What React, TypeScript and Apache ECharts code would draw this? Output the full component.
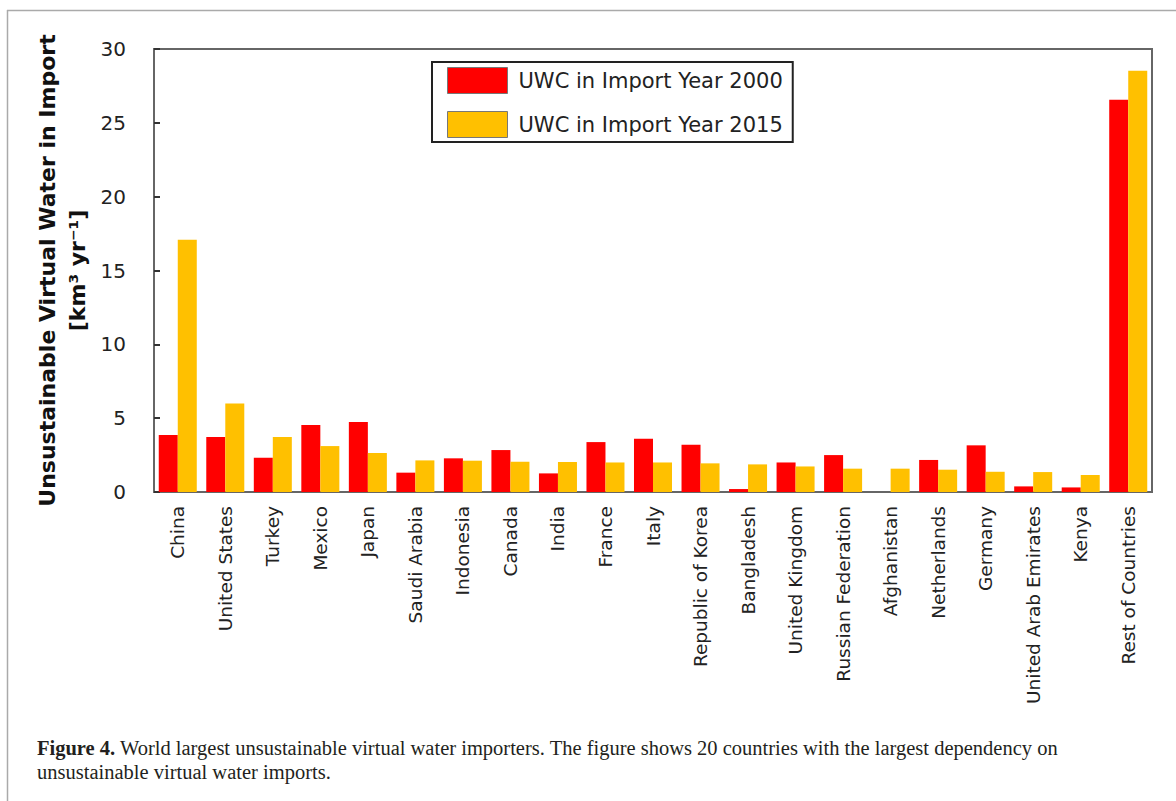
import React, { useEffect, useRef } from "react";
import * as echarts from "echarts";

const countries = [
  "China", "United States", "Turkey", "Mexico", "Japan", "Saudi Arabia", "Indonesia",
  "Canada", "India", "France", "Italy", "Republic of Korea", "Bangladesh", "United Kingdom",
  "Russian Federation", "Afghanistan", "Netherlands", "Germany", "United Arab Emirates",
  "Kenya", "Rest of Countries",
];
const uwc2000 = [3.86, 3.72, 2.32, 4.54, 4.74, 1.31, 2.28, 2.84, 1.26, 3.38, 3.61, 3.2, 0.2, 2.0, 2.5, 0, 2.17, 3.16, 0.38, 0.31, 26.56];
const uwc2015 = [17.08, 6.0, 3.72, 3.11, 2.64, 2.14, 2.12, 2.05, 2.03, 2.0, 2.0, 1.94, 1.87, 1.73, 1.58, 1.58, 1.51, 1.37, 1.35, 1.15, 28.52];
const seriesNames = ["UWC in Import Year 2000", "UWC in Import Year 2015"];
const yTicks = { min: 0, max: 30, interval: 5 };
const captionBold = "Figure 4.";
const captionLine1 = " World largest unsustainable virtual water importers. The figure shows 20 countries with the largest dependency on";
const captionLine2 = "unsustainable virtual water imports.";

const FONT = "DejaVu Sans";

export default function App() {
  const ref = useRef<HTMLDivElement>(null);
  useEffect(() => {
    if (!ref.current) return;
    const chart = echarts.init(ref.current, undefined, { renderer: "svg" });
    chart.setOption({
      animation: false,
      backgroundColor: "#ffffff",
      grid: {
        left: 154, right: 24, top: 49, bottom: 309,
        show: true, borderColor: "#666", borderWidth: 2,
      },
      legend: {
        orient: "vertical",
        left: 432, top: 62,
        data: seriesNames,
        borderColor: "#222", borderWidth: 2,
        padding: [5, 10, 4, 15],
        itemWidth: 60, itemHeight: 26, itemGap: 17,
        icon: "rect",
        itemStyle: { borderColor: "#777", borderWidth: 1 },
        textStyle: { fontFamily: FONT, fontSize: 21, color: "#222", padding: [0, 0, 0, 6] },
      },
      xAxis: {
        type: "category",
        data: countries,
        axisTick: { show: false },
        axisLine: { lineStyle: { color: "#666", width: 2 } },
        axisLabel: { rotate: 90, fontFamily: FONT, fontSize: 18.5, color: "#222", margin: 14, interval: 0 },
      },
      yAxis: {
        type: "value",
        min: yTicks.min, max: yTicks.max, interval: yTicks.interval,
        axisLine: { show: true, lineStyle: { color: "#666", width: 2 } },
        axisTick: { show: true, inside: true, length: 6, lineStyle: { color: "#333", width: 2 } },
        splitLine: { show: false },
        axisLabel: { fontFamily: FONT, fontSize: 20, color: "#222", margin: 28 },
        name: "{a|Unsustainable Virtual Water in Import}\n{b|[km³ yr⁻¹]}",
        nameLocation: "middle",
        nameGap: 62,
        nameRotate: 90,
        nameTextStyle: {
          rich: {
            a: { fontFamily: FONT, fontSize: 22, fontWeight: "bold", color: "#111", lineHeight: 30 },
            b: { fontFamily: FONT, fontSize: 22, fontWeight: "bold", color: "#111", lineHeight: 30 },
          },
        },
      },
      series: [
        {
          name: seriesNames[0], type: "bar", data: uwc2000,
          barCategoryGap: "20%", barGap: "0%",
          itemStyle: { color: "#ff0000" },
        },
        {
          name: seriesNames[1], type: "bar", data: uwc2015,
          barCategoryGap: "20%", barGap: "0%",
          itemStyle: { color: "#ffc000" },
        },
      ],
      graphic: [
        { type: "line", shape: { x1: 7, y1: 10.5, x2: 1176, y2: 10.5 }, style: { stroke: "#aaa", lineWidth: 1.5 } },
        { type: "line", shape: { x1: 7.5, y1: 10, x2: 7.5, y2: 801 }, style: { stroke: "#aaa", lineWidth: 1.5 } },
        {
          type: "text", left: 37, top: 737,
          style: {
            text: "{b|" + captionBold + "}{r|" + captionLine1 + "}",
            rich: {
              b: { fontFamily: "Liberation Serif", fontSize: 20.5, fontWeight: "bold", fill: "#231f20" },
              r: { fontFamily: "Liberation Serif", fontSize: 20.5, fill: "#231f20" },
            },
          },
        },
        {
          type: "text", left: 37, top: 761,
          style: { text: captionLine2, fontFamily: "Liberation Serif", fontSize: 20.5, fill: "#231f20" },
        },
      ],
    });
    return () => chart.dispose();
  }, []);
  return <div ref={ref} style={{ position: "fixed", left: 0, top: 0, width: 1176, height: 801 }} />;
}
